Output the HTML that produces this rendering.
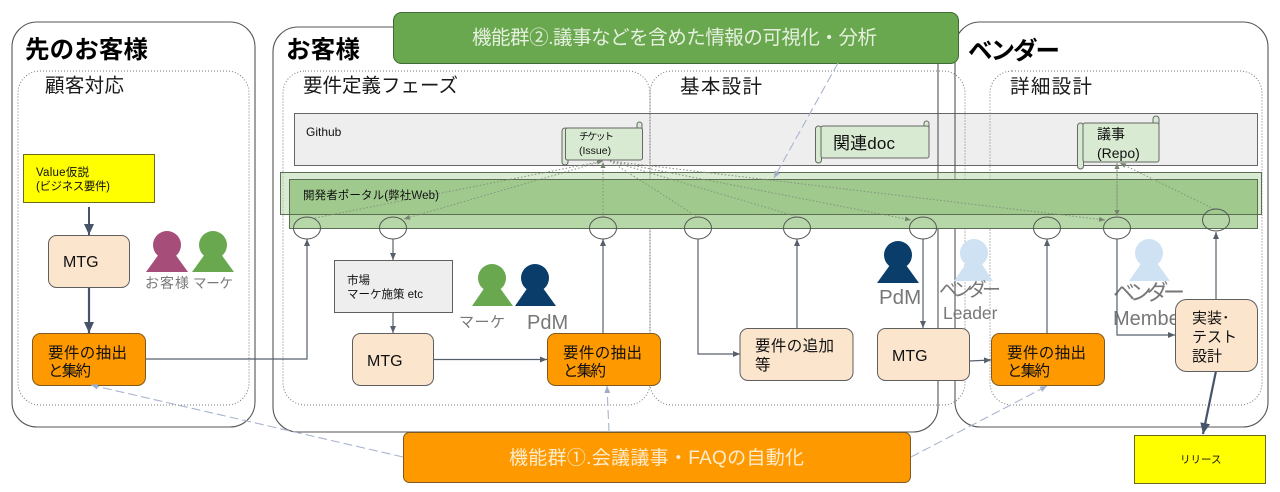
<!DOCTYPE html>
<html lang="ja"><head><meta charset="utf-8"><title>Diagram</title>
<style>
html,body{margin:0;padding:0;background:#fff}
svg{display:block}
text{font-family:"Liberation Sans","Noto Sans CJK JP",sans-serif;fill:#111}
.t{font-weight:bold;font-size:24.5px;fill:#000}
.h{font-size:19.5px;fill:#1a1a1a}
.g{fill:#777}
.box{stroke:#5f5f5f;stroke-width:1}
.a{fill:none;stroke:#56606c;stroke-width:1.2}
.d{fill:none;stroke:#84927f;stroke-width:1;stroke-dasharray:1.5 2}
.b{fill:none;stroke:#a9b4cf;stroke-width:1.1;stroke-dasharray:9 4}
.dot{fill:none;stroke:#777;stroke-width:1;stroke-dasharray:1 2}
.f{fill:none;stroke:#555;stroke-width:1.1}
</style></head>
<body>
<svg width="1280" height="492" viewBox="0 0 1280 492" xmlns="http://www.w3.org/2000/svg">
<defs>
<marker id="m" markerUnits="userSpaceOnUse" markerWidth="8" markerHeight="7" refX="7" refY="3" orient="auto"><path d="M0,0 L7,3 L0,6 Z" fill="#56606c"/></marker>
<marker id="k" markerUnits="userSpaceOnUse" markerWidth="12" markerHeight="12" refX="11" refY="5" orient="auto"><path d="M0,0 L11,5 L0,10 Z" fill="#46546a"/></marker>
<marker id="dm" markerUnits="userSpaceOnUse" markerWidth="7" markerHeight="6" refX="6" refY="2.500" orient="auto"><path d="M0,0 L6,2.500 L0,5 Z" fill="#76846f"/></marker>
<marker id="bm" markerUnits="userSpaceOnUse" markerWidth="8" markerHeight="7" refX="7" refY="3" orient="auto"><path d="M0,0 L7,3 L0,6 Z" fill="#a0adc9"/></marker>
</defs>
<rect width="1280" height="492" fill="#fff"/>

<!-- github band -->
<rect x="294.500" y="113.500" width="963" height="52" fill="#eeeeee" stroke="#666"/>

<!-- outer frames -->
<rect x="12" y="22" width="243" height="405" rx="25" class="f"/>
<rect x="273" y="27" width="665" height="405" rx="25" class="f"/>
<rect x="955" y="22" width="313" height="405" rx="25" class="f"/>

<!-- phases -->
<rect x="18" y="71" width="231" height="334" rx="22" class="dot"/>
<rect x="283" y="71" width="367" height="334" rx="22" class="dot"/>
<rect x="650" y="71" width="315" height="334" rx="22" class="dot"/>
<rect x="990" y="71" width="272" height="334" rx="22" class="dot"/>

<!-- portal bands -->
<rect x="280.500" y="172.500" width="981" height="42" fill="#b6d7a8" fill-opacity=".5" stroke="#5c6e52"/>
<rect x="289.500" y="179.500" width="968" height="49" fill="#b6d7a8" stroke="#5c6e52"/>
<rect x="289.500" y="179.500" width="968" height="35" fill="#9fc98d" stroke="#5c6e52"/>
<text x="303" y="199" font-size="11.500" textLength="136">開発者ポータル(弊社Web)</text>

<!-- scrolls -->
<g fill="#d9ead3" stroke="#666" stroke-width="1">
<rect x="637" y="122" width="5" height="10" rx="2.500"/>
<rect x="562" y="128" width="6" height="37" rx="3"/>
<rect x="565.500" y="128" width="77" height="32" rx="2"/>
<rect x="924" y="121" width="5" height="9" rx="2.500"/>
<rect x="815.500" y="126" width="6" height="37" rx="3"/>
<rect x="821" y="126" width="108" height="32" rx="2"/>
<rect x="1153" y="116" width="6" height="10" rx="3"/>
<rect x="1077.500" y="123" width="6" height="46" rx="3"/>
<rect x="1083" y="123" width="76" height="39" rx="2"/>
</g>
<text x="579" y="140" font-size="10" textLength="35">チケット</text>
<text x="579" y="154" font-size="10.500">(Issue)</text>
<text x="833" y="149" font-size="17" textLength="62">関連doc</text>
<text x="1097" y="139" font-size="14">議事</text>
<text x="1097" y="158" font-size="14">(Repo)</text>
<text x="306" y="136" font-size="12">Github</text>

<!-- dotted links -->
<path class="d" d="M315,218 L603,161" marker-end="url(#dm)"/>
<path class="d" d="M603,161 L404,219" marker-end="url(#dm)"/>
<path class="d" d="M603,217 L603,162" marker-end="url(#dm)"/>
<path class="d" d="M610,161 L696,216"/>
<path class="d" d="M610,161 L795,216"/>
<path class="d" d="M610,161 L911,220" marker-end="url(#dm)"/>
<path class="d" d="M610,161 L1105,220" marker-end="url(#dm)"/>
<path class="d" d="M1117,215 L1117,163" marker-end="url(#dm)"/>
<path class="d" d="M1117,163 L1117,216" marker-end="url(#dm)"/>
<path class="d" d="M1214,209 L1120,163" marker-end="url(#dm)"/>

<!-- connection circles -->
<g fill="none" stroke="#555" stroke-width="1">
<ellipse cx="307" cy="228" rx="13.500" ry="11"/>
<ellipse cx="393" cy="228" rx="13.500" ry="11"/>
<ellipse cx="603" cy="228" rx="13.500" ry="11"/>
<ellipse cx="698" cy="228" rx="13.500" ry="11"/>
<ellipse cx="797" cy="228" rx="13.500" ry="11"/>
<ellipse cx="923" cy="228" rx="13.500" ry="11"/>
<ellipse cx="1047" cy="228" rx="13.500" ry="11"/>
<ellipse cx="1117" cy="228" rx="13.500" ry="11"/>
<ellipse cx="1216" cy="220" rx="13.500" ry="11"/>
</g>

<!-- people -->
<g fill="#a64d79"><circle cx="167" cy="245" r="14"/><path d="M167,243 L188,272 H146 Z"/></g>
<g fill="#6aa84f"><circle cx="213" cy="245" r="14"/><path d="M213,243 L234,272 H192 Z"/></g>
<g fill="#6aa84f"><circle cx="492" cy="278" r="14"/><path d="M492,277 L513,306 H472 Z"/></g>
<g fill="#0b3d6b"><circle cx="535" cy="278" r="14"/><path d="M535,277 L556,306 H515 Z"/></g>
<g fill="#0b3d6b"><circle cx="898" cy="255" r="14"/><path d="M898,254 L919,283 H877 Z"/></g>
<g fill="#cfe2f3"><circle cx="974" cy="253" r="14"/><path d="M974,252 L993,281 H954 Z"/></g>
<g fill="#cfe2f3"><circle cx="1149" cy="253" r="14"/><path d="M1149,252 L1170,281 H1129 Z"/></g>
<text x="145" y="288" font-size="14" class="g" textLength="44">お客様</text>
<text x="193" y="288" font-size="13.500" class="g" textLength="40">マーケ</text>
<text x="459" y="327" font-size="15" class="g" textLength="46">マーケ</text>
<text x="527" y="329" font-size="20" class="g">PdM</text>
<text x="879" y="304" font-size="20.500" class="g">PdM</text>
<text x="939" y="296" font-size="19" class="g" textLength="62">ベンダー</text>
<text x="943" y="319" font-size="17.500" class="g">Leader</text>
<text x="1113" y="300" font-size="22" class="g" textLength="72">ベンダー</text>
<text x="1113" y="325" font-size="20" class="g">Member</text>

<!-- arrows -->
<path class="a" d="M89,207 V235" style="stroke:#46546a;stroke-width:2" marker-end="url(#k)"/>
<path class="a" d="M89,287 V333" style="stroke:#46546a;stroke-width:2.200" marker-end="url(#k)"/>
<path class="a" d="M145,359 H307 V239" marker-end="url(#m)"/>
<path class="a" d="M393,239 V260" marker-end="url(#m)"/>
<path class="a" d="M393,312 V333" marker-end="url(#m)"/>
<path class="a" d="M434,359.500 H547" marker-end="url(#m)"/>
<path class="a" d="M603,333 V239" marker-end="url(#m)"/>
<path class="a" d="M698,239 V354 H740" marker-end="url(#m)"/>
<path class="a" d="M797,328 V239" marker-end="url(#m)"/>
<path class="a" d="M923,239 V328" marker-end="url(#m)"/>
<path class="a" d="M969,361 L991,360" marker-end="url(#m)"/>
<path class="a" d="M1047,333 V239" marker-end="url(#m)"/>
<path class="a" d="M1117,239 V335 H1175" marker-end="url(#m)"/>
<path class="a" d="M1216,299 V232" marker-end="url(#m)"/>
<path class="a" d="M1216,371 L1203,434" style="stroke:#46546a;stroke-width:2.200" marker-end="url(#k)"/>

<!-- boxes -->
<rect x="23.500" y="154.500" width="131" height="48" fill="#ffff00" stroke="#6b6b20"/>
<text x="36" y="176" font-size="11.500" textLength="53">Value仮説</text>
<text x="36" y="190" font-size="11.500" textLength="74">(ビジネス要件)</text>
<rect x="48.500" y="235.500" width="81" height="52" rx="8" fill="#fce5cd" class="box"/>
<text x="63" y="267" font-size="16">MTG</text>
<rect x="32.500" y="333.500" width="113" height="52" rx="8" fill="#ff9900" stroke="#7f5a20"/>
<text x="48" y="358" font-size="15.500" textLength="79">要件の抽出</text>
<text x="48" y="376" font-size="15.500" textLength="43">と集約</text>

<rect x="334.500" y="260.500" width="118" height="52" fill="#eeeeee" class="box"/>
<text x="347" y="284" font-size="11.500">市場</text>
<text x="347" y="298" font-size="11.500" textLength="76">マーケ施策 etc</text>
<rect x="352.500" y="333.500" width="81" height="52" rx="8" fill="#fce5cd" class="box"/>
<text x="367" y="366" font-size="16">MTG</text>
<rect x="547.500" y="333.500" width="113" height="52" rx="8" fill="#ff9900" stroke="#7f5a20"/>
<text x="563" y="358" font-size="15.500" textLength="79">要件の抽出</text>
<text x="563" y="376" font-size="15.500" textLength="43">と集約</text>

<rect x="740" y="328.500" width="113" height="52" rx="8" fill="#fce5cd" class="box"/>
<text x="755" y="351" font-size="15.500" textLength="79">要件の追加</text>
<text x="755" y="370" font-size="15.500">等</text>

<rect x="877.500" y="328.500" width="92" height="52" rx="8" fill="#fce5cd" class="box"/>
<text x="892" y="361" font-size="16">MTG</text>
<rect x="991.500" y="333.500" width="113" height="52" rx="8" fill="#ff9900" stroke="#7f5a20"/>
<text x="1007" y="358" font-size="15.500" textLength="79">要件の抽出</text>
<text x="1007" y="376" font-size="15.500" textLength="43">と集約</text>

<rect x="1175.500" y="299.500" width="82" height="72" rx="11" fill="#fce5cd" class="box"/>
<text x="1192" y="323" font-size="15">実装･</text>
<text x="1192" y="342" font-size="15">テスト</text>
<text x="1192" y="361" font-size="15">設計</text>

<rect x="1134.500" y="435.500" width="131" height="48" fill="#ffff00" stroke="#6b6b20"/>
<text x="1180" y="463" font-size="10.500">リリース</text>

<!-- headings -->
<text x="25" y="58" class="t" textLength="123">先のお客様</text>
<text x="286" y="58" class="t" textLength="74">お客様</text>
<text x="968" y="59" class="t" textLength="92">ベンダー</text>
<text x="45" y="92" class="h" textLength="79">顧客対応</text>
<text x="303" y="92" class="h" textLength="155">要件定義フェーズ</text>
<text x="680" y="93" class="h" textLength="82">基本設計</text>
<text x="1010" y="93" class="h" textLength="82">詳細設計</text>

<!-- feature banners -->
<rect x="393.500" y="12.500" width="565" height="51" rx="8" fill="#6aa84f" stroke="#3f6b36"/>
<text x="472" y="44" font-size="19.500" style="fill:#e6f0df" textLength="405">機能群②.議事などを含めた情報の可視化・分析</text>
<rect x="403.500" y="432.500" width="507" height="50" rx="6" fill="#ff9900" stroke="#7f5a20"/>
<text x="509" y="464" font-size="19" style="fill:#fdeccc" textLength="295">機能群①.会議議事・FAQの自動化</text>

<!-- dashed -->
<path class="b" d="M403,457 L91,385" marker-end="url(#bm)"/>
<path class="b" d="M609,432 L607,386" marker-end="url(#bm)"/>
<path class="b" d="M911,457 L1047,386" marker-end="url(#bm)"/>
<path class="b" d="M838,63 L774,178" marker-end="url(#bm)"/>
</svg>
</body></html>
